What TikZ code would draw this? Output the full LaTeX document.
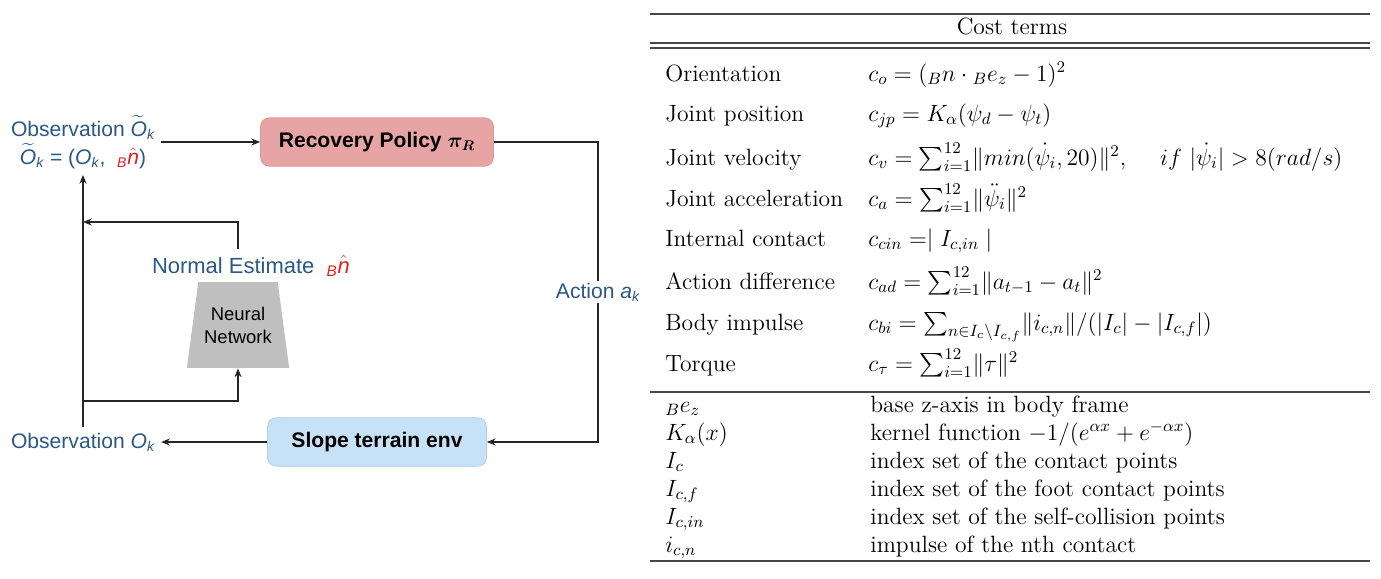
\RequirePackage{fix-cm}
\documentclass[tikz,border=0pt]{standalone}
\usepackage{amsmath, amssymb}
\usepackage{bm}
\usepackage{fontspec}
\setsansfont{Liberation Sans}
\usepackage{tikz}
\usetikzlibrary{positioning, arrows.meta, calc, shapes.geometric}
\definecolor{obsblue}{RGB}{43,89,133}
\definecolor{hatred}{RGB}{226,32,32}
\definecolor{polfill}{RGB}{230,164,164}
\definecolor{poldraw}{RGB}{222,150,150}
\definecolor{envfill}{RGB}{199,225,246}
\definecolor{envdraw}{RGB}{172,204,232}
\definecolor{netgrey}{RGB}{191,191,191}
\definecolor{rulegrey}{RGB}{70,70,70}
\newcommand{\Ok}{\textit{O}$_{\textit{k}}$}
\newcommand{\Otk}{$\widetilde{\textit{O}}_{\textit{k}}$}
\newcommand{\Bn}{{\color{hatred}$_{\textit{B}}\hat{\textit{n}}$}}

\begin{document}
\begin{tikzpicture}[x=0.02cm, y=-0.02cm,
    obs/.style={font=\sffamily\fontsize{12}{16}\selectfont, text=obsblue, align=center},
    blk/.style={font=\sffamily\bfseries\fontsize{12}{14}\selectfont, rounded corners=5pt,
                minimum height=0.97cm, line width=0.4pt},
    flow/.style={-{Stealth[length=5pt, width=4pt]}, line width=0.8pt, draw=black!85},
    wire/.style={line width=0.8pt, draw=black!85},
    row/.style={font=\fontsize{13.4}{16}\selectfont, anchor=base west, inner sep=0pt},
    tabrule/.style={draw=rulegrey}
  ]
  \useasboundingbox (0,0) rectangle (1381,578);

  % left: recovery loop
  \node[obs] (obsT) at (83,142) {Observation \Otk\\ \Otk{} = (\Ok,\; \Bn)};
  \node[blk, fill=polfill, draw=poldraw, minimum width=4.66cm] (policy) at (377,142)
        {Recovery Policy $\bm{\pi}_{\bm{R}}$};
  \node[blk, fill=envfill, draw=envdraw, minimum width=4.38cm] (env) at (377,442)
        {Slope terrain env};
  \node[obs] (obsO) at (83,442) {Observation \Ok};
  \node[obs, inner sep=1pt] (act) at (598,292) {Action \textit{a}$_{\textit{k}}$};
  \node[trapezium, trapezium angle=76.6, trapezium stretches=true, fill=netgrey,
        minimum width=2.04cm, minimum height=1.72cm, align=center,
        font=\sffamily\fontsize{10.5}{13}\selectfont] (net) at (238,325) {Neural\\Network};
  \node[obs, font=\sffamily\fontsize{12.5}{16}\selectfont] (est) at (251,266)
        {Normal Estimate \;\Bn};

  \coordinate (split) at (83,401);
  \coordinate (fb) at (83,222);

  \draw[flow] (obsT.east) -- (policy.west);
  \draw[wire] (policy.east) -| (act.north);
  \draw[flow] (act.south) |- (env.east);
  \draw[flow] (env.west) -- (obsO.east);
  \draw[flow] (obsO.north) -- (obsT.south);
  \draw[flow] (split) -| (net.south);
  \draw[flow] (net.north |- est.north) |- (fb);

  % right: cost table
  \def\xa{665} \def\xb{868} \def\xc{870}
  \draw[tabrule, line width=1.1pt] (650,14) -- (1370,14);
  \node[row, anchor=base] (title) at (1012,34) {Cost terms};
  \draw[tabrule, line width=0.6pt] (650,43) -- (1370,43);
  \draw[tabrule, line width=0.6pt] (650,48) -- (1370,48);

  \node[row] (lOri) at (\xa,81) {Orientation};
  \node[row] (fOri) at (\xb,81) {$c_o = ({}_{B}n\cdot{}_{B}e_z - 1)^2$};
  \node[row] (lPos) at (\xa,121) {Joint position};
  \node[row] (fPos) at (\xb,121) {$c_{jp} = K_\alpha(\psi_d - \psi_t)$};
  \node[row] (lVel) at (\xa,165) {Joint velocity};
  \node[row] (fVel) at (\xb,165) {$c_v = \sum_{i=1}^{12}\!\|min(\dot{\psi}_i, 20)\|^2, \quad\; if\ |\dot{\psi}_i| > 8(rad/s)$};
  \node[row] (lAcc) at (\xa,206) {Joint acceleration};
  \node[row] (fAcc) at (\xb,206) {$c_a = \sum_{i=1}^{12}\!\|\ddot{\psi}_i\|^2$};
  \node[row] (lCin) at (\xa,246) {Internal contact};
  \node[row] (fCin) at (\xb,246) {$c_{cin} = \mid I_{c,in}\mid$};
  \node[row] (lAd) at (\xa,289) {Action difference};
  \node[row] (fAd) at (\xb,289) {$c_{ad} = \sum_{i=1}^{12}\!\|a_{t-1} - a_t\|^2$};
  \node[row] (lBi) at (\xa,330) {Body impulse};
  \node[row] (fBi) at (\xb,330) {$c_{bi} = \sum_{n\in I_c\setminus I_{c,f}}\!\|i_{c,n}\|/(|I_c| - |I_{c,f}|)$};
  \node[row] (lTau) at (\xa,371) {Torque};
  \node[row] (fTau) at (\xb,371) {$c_\tau = \sum_{i=1}^{12}\!\|\tau\|^2$};

  \draw[tabrule, line width=0.6pt] (650,392) -- (1370,392);

  \node[row] (sEz) at (\xa,412) {${}_{B}e_z$};
  \node[row] (dEz) at (\xc,412) {base z-axis in body frame};
  \node[row] (sK) at (\xa,440) {$K_\alpha(x)$};
  \node[row] (dK) at (\xc,440) {kernel function $-1/(e^{\alpha x} + e^{-\alpha x})$};
  \node[row] (sIc) at (\xa,468) {$I_c$};
  \node[row] (dIc) at (\xc,468) {index set of the contact points};
  \node[row] (sIcf) at (\xa,496) {$I_{c,f}$};
  \node[row] (dIcf) at (\xc,496) {index set of the foot contact points};
  \node[row] (sIcin) at (\xa,524) {$I_{c,in}$};
  \node[row] (dIcin) at (\xc,524) {index set of the self-collision points};
  \node[row] (sicn) at (\xa,552) {$i_{c,n}$};
  \node[row] (dicn) at (\xc,552) {impulse of the nth contact};

  \draw[tabrule, line width=0.9pt] (650,561) -- (1370,561);
\end{tikzpicture}
\end{document}
